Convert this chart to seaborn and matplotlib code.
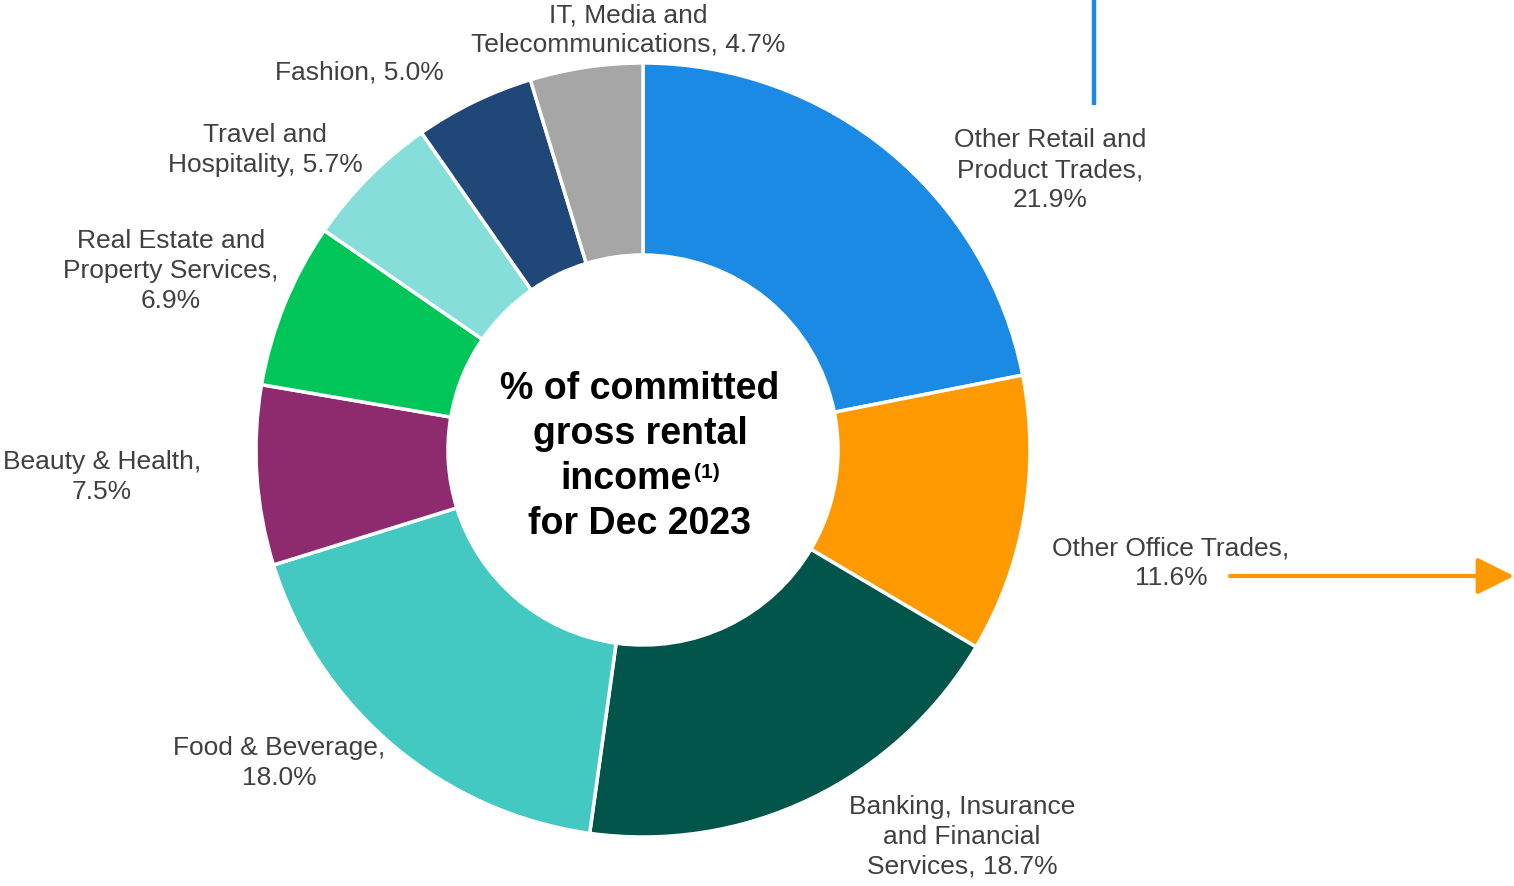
import matplotlib
matplotlib.use("Agg")
import matplotlib.pyplot as plt
import seaborn as sns

sns.set_theme(style="white")
plt.rcParams['font.family'] = ['Liberation Sans', 'DejaVu Sans']

categories = ["Other Retail and\nProduct Trades,\n21.9%",
              "Other Office Trades,\n11.6%",
              "Banking, Insurance\nand Financial\nServices, 18.7%",
              "Food & Beverage,\n18.0%",
              "Beauty & Health,\n7.5%",
              "Real Estate and\nProperty Services,\n6.9%",
              "Travel and\nHospitality, 5.7%",
              "Fashion, 5.0%",
              "IT, Media and\nTelecommunications, 4.7%"]
values = [21.9, 11.6, 18.7, 18.0, 7.5, 6.9, 5.7, 5.0, 4.7]
colors = ["#1B8AE4", "#FF9900", "#02554B", "#43C9C2", "#8E2A6E",
          "#00C65A", "#86DEDA", "#1F4878", "#A6A6A6"]

# label centre positions in pixel coords (x, y from top)
label_pos = [(1050, 170), (1171, 563), (962, 837), (279, 763), (102, 477),
             (171, 271), (265, 150), (359, 72), (628, 30)]

W, H = 1514, 886
fig = plt.figure(figsize=(W / 100, H / 100), dpi=100)
ax = fig.add_axes([0, 0, 1, 1])
ax.set_xlim(0, W)
ax.set_ylim(0, H)
ax.axis("off")

cx, cy, R = 643, H - 450, 387
ax.pie(values, colors=colors, startangle=90, counterclock=False,
       center=(cx, cy), radius=R,
       wedgeprops=dict(width=192, edgecolor="white", linewidth=2.5))
ax.set_xlim(0, W)
ax.set_ylim(0, H)
ax.set_aspect("equal")

txt_color = "#404040"
for lab, (px, py) in zip(categories, label_pos):
    ax.text(px, H - py, lab, ha="center", va="center", fontsize=19,
            color=txt_color, linespacing=1.3)

# centre title
title_kw = dict(fontsize=27, fontweight="bold", color="black", va="center")
ax.text(640, H - 389, "% of committed", ha="center", **title_kw)
ax.text(640, H - 434, "gross rental", ha="center", **title_kw)
ax.text(692, H - 479, "income", ha="right", **title_kw)
ax.text(694, H - 472, "(1)", ha="left", fontsize=15, fontweight="bold",
        color="black", va="center")
ax.text(640, H - 524, "for Dec 2023", ha="center", **title_kw)

# decorations
ax.plot([1094, 1094], [H - 0, H - 105], color="#1B8AE4", lw=3.2,
        solid_capstyle="butt")
ax.annotate("", xy=(1514, H - 576), xytext=(1230, H - 576),
            arrowprops=dict(arrowstyle="-|>,head_length=1.9,head_width=0.95",
                            color="#FF9900", lw=3, shrinkA=0, shrinkB=0))

fig.savefig("out.png", dpi=100)
